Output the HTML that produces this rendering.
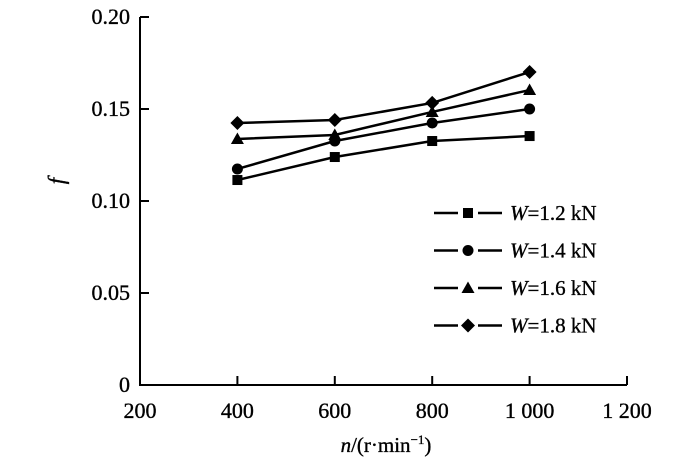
<!DOCTYPE html>
<html><head><meta charset="utf-8"><style>
html,body{margin:0;padding:0;background:#fff;}
svg{display:block;font-family:"Liberation Serif",serif;}
text{stroke:#000;stroke-width:0.35px;}
</style></head><body>
<svg id="chart" width="700" height="465" viewBox="0 0 700 465"></svg>
<script>
const categories = [400, 600, 800, 1000];
const seriesLabels = ["=1.2 kN", "=1.4 kN", "=1.6 kN", "=1.8 kN"];
const seriesW12 = [0.1114, 0.1239, 0.1326, 0.1353];
const seriesW14 = [0.1174, 0.1326, 0.1424, 0.1500];
const seriesW16 = [0.1337, 0.1359, 0.1484, 0.1603];
const seriesW18 = [0.1424, 0.1440, 0.1533, 0.1701];
const xTicks = [200, 400, 600, 800, 1000, 1200];
const xTickLabels = ["200", "400", "600", "800", "1 000", "1 200"];
const yTicks = [0, 0.05, 0.10, 0.15, 0.20];
const yTickLabels = ["0", "0.05", "0.10", "0.15", "0.20"];

const NS = "http://www.w3.org/2000/svg";
const svg = document.getElementById("chart");
const X0 = 140, Y0 = 385;
function xs(v){ return X0 + (v - 200) * (487 / 1000); }
function ys(v){ return Y0 - v * 1840; }
function mk(tag, attrs, parent){
  const e = document.createElementNS(NS, tag);
  for (const k in attrs) e.setAttribute(k, attrs[k]);
  (parent || svg).appendChild(e);
  return e;
}
const ax = mk("path", {d:`M${X0},${ys(0.2)} V${Y0} H${xs(1200)}`, fill:"none", stroke:"#000", "stroke-width":2});


xTicks.forEach((t,i)=>{
  if (i>0){
    const l = mk("line",{x1:xs(t),x2:xs(t),y1:Y0,y2:Y0-9,stroke:"#000","stroke-width":2});
    
    
  }
  const tx = mk("text",{x:xs(t),y:418,"text-anchor":"middle","font-size":22});
  tx.textContent = xTickLabels[i];
  
  
});
yTicks.forEach((t,i)=>{
  if (i>0){
    const l = mk("line",{x1:X0,x2:X0+9,y1:ys(t),y2:ys(t),stroke:"#000","stroke-width":2});
    
    
  }
  const tx = mk("text",{x:130,y:ys(t)+7,"text-anchor":"end","font-size":22});
  tx.textContent = yTickLabels[i];
  
  
});
const yt = mk("text",{x:0,y:0,"font-size":23,"font-style":"italic",transform:"translate(64,181) rotate(-90)","text-anchor":"middle"});
yt.textContent = "f";


const xt = mk("text",{x:386,y:452,"text-anchor":"middle","font-size":21});
xt.innerHTML = '<tspan font-style="italic">n</tspan>/(r·min<tspan dy="-8" font-size="13">−1</tspan><tspan dy="8">)</tspan>';



function marker(type, cx, cy, parent){
  let e;
  if (type===0) e = mk("rect",{x:cx-5,y:cy-5,width:10,height:10,fill:"#000"},parent);
  else if (type===1) e = mk("circle",{cx:cx,cy:cy,r:5.5,fill:"#000"},parent);
  else if (type===2) e = mk("path",{d:`M${cx},${cy-6.5} L${cx+6.5},${cy+5} L${cx-6.5},${cy+5} Z`,fill:"#000"},parent);
  else e = mk("path",{d:`M${cx},${cy-7} L${cx+7},${cy} L${cx},${cy+7} L${cx-7},${cy} Z`,fill:"#000"},parent);
  
  
}
const allSeries = [seriesW12, seriesW14, seriesW16, seriesW18];
allSeries.forEach((s, si)=>{
  const g = mk("g",{});
  
  
  const d = s.map((v,i)=>(i?"L":"M")+xs(categories[i])+","+ys(v)).join(" ");
  const p = mk("path",{d:d,fill:"none",stroke:"#000","stroke-width":2.5},g);
  
  
  s.forEach((v,i)=>marker(si, xs(categories[i]), ys(v), g));
  const ly = 213 + si*37.5;
  const lg = mk("g",{});
  
  
  mk("line",{x1:434,x2:458,y1:ly,y2:ly,stroke:"#000","stroke-width":2.5},lg);
  mk("line",{x1:478,x2:502,y1:ly,y2:ly,stroke:"#000","stroke-width":2.5},lg);
  marker(si, 468, ly, lg);
  const t = mk("text",{x:510,y:ly+7,"font-size":21},lg);
  t.innerHTML = '<tspan font-style="italic">W</tspan>' + seriesLabels[si];
});
</script>
</body></html>
